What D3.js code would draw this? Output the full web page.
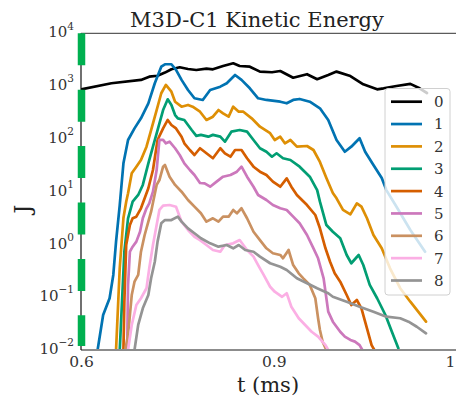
<!DOCTYPE html>
<html>
<head>
<meta charset="utf-8">
<script src="https://cdn.jsdelivr.net/npm/d3@7"></script>
<style>
  html, body { margin: 0; padding: 0; background: #fff; }
  svg { display: block; }
  text { font-family: "DejaVu Serif", serif; }
</style>
</head>
<body>
<svg id="chart" width="456" height="396"></svg>
<script>
// ---------------- data ----------------
const seriesNames = ["0", "1", "2", "3", "4", "5", "6", "7", "8"];
const seriesColors = ["#000000", "#0173b2", "#de8f05", "#029e73", "#d55e00", "#cc78bc", "#ca9161", "#fbafe4", "#949494"];

const xTickValues = [0.6, 0.809, 1.0];
const xTickLabels = ["0.6", "0.9", "1"];
const yTickValues = [1e-2, 1e-1, 1e0, 1e1, 1e2, 1e3, 1e4];
const yTickExponents = ["−2", "−1", "0", "1", "2", "3", "4"];

const t0 = [0.600,0.633,0.665,0.674,0.683,0.691,0.698,0.707,0.716,0.725,0.736,0.743,0.754,0.765,0.772,0.783,0.794,0.807,0.816,0.830,0.845,0.856,0.868,0.877,0.892,0.906,0.921,0.928,0.942,0.957,0.967,0.975];
const j0 = [869,1130,1310,1510,1570,1800,2080,2270,2110,2020,2140,2080,2400,2700,2400,2330,1880,1830,1930,1440,1680,1350,1620,1880,1550,1080,869,908,1005,1100,908,740];

const t1 = [0.618,0.624,0.631,0.635,0.638,0.642,0.646,0.651,0.658,0.665,0.673,0.680,0.687,0.691,0.698,0.703,0.709,0.716,0.723,0.732,0.740,0.751,0.758,0.767,0.774,0.783,0.792,0.801,0.816,0.823,0.830,0.837,0.848,0.859,0.868,0.877,0.886,0.893,0.902,0.908,0.917,0.926,0.931,0.942,0.957,0.973];
const j1 = [0.01,0.046,0.0955,0.264,1.13,5.58,34.4,95.3,158,245,472,1130,2330,2590,2590,2020,1310,843,587,546,843,975,1130,1620,1310,908,587,546,506,472,546,570,506,380,228,95.3,57.1,71.1,103,57.1,32.0,18.2,10.7,5.19,1.88,0.728];

const t2 = [0.638,0.642,0.646,0.649,0.651,0.655,0.660,0.665,0.671,0.676,0.682,0.687,0.692,0.698,0.702,0.709,0.716,0.721,0.729,0.736,0.743,0.749,0.754,0.760,0.765,0.771,0.776,0.785,0.794,0.805,0.810,0.816,0.821,0.827,0.834,0.845,0.852,0.859,0.866,0.873,0.877,0.884,0.892,0.899,0.904,0.910,0.917,0.926,0.935,0.946,0.957,0.967,0.974];
const j2 = [0.01,0.358,3.17,6.46,9.31,22.3,29.7,39.8,71.1,147,352,731,1050,783,506,407,439,407,327,228,263,352,305,263,407,327,327,245,170,128,95.3,110,82.4,95.3,71.1,73.3,61.5,36.5,18.2,9.44,7.48,4.50,3.72,6.01,5.19,3.13,1.51,0.845,0.353,0.148,0.0822,0.0495,0.0344];

const t3 = [0.642,0.647,0.651,0.656,0.662,0.667,0.673,0.678,0.683,0.689,0.694,0.698,0.702,0.705,0.712,0.720,0.725,0.730,0.738,0.743,0.751,0.756,0.763,0.772,0.780,0.787,0.794,0.801,0.807,0.812,0.819,0.827,0.837,0.848,0.856,0.859,0.866,0.873,0.881,0.888,0.893,0.901,0.906,0.913,0.921,0.930,0.937,0.944];
const j3 = [0.01,0.728,3.13,6.46,8.65,13.4,34.4,71.1,147,352,562,439,283,245,228,147,114,119,110,119,110,88.4,137,147,137,95.3,66.4,57.1,45.9,53.3,42.9,39.8,29.7,19.2,10.7,6.46,2.33,1.74,1.31,0.631,0.440,0.631,0.407,0.171,0.0955,0.046,0.0222,0.0108];

const t4 = [0.646,0.647,0.649,0.653,0.656,0.660,0.665,0.669,0.673,0.678,0.683,0.689,0.694,0.698,0.703,0.709,0.712,0.718,0.723,0.729,0.736,0.743,0.751,0.756,0.762,0.767,0.774,0.780,0.787,0.794,0.801,0.808,0.816,0.823,0.828,0.834,0.845,0.854,0.859,0.865,0.870,0.875,0.881,0.888,0.893,0.899,0.904,0.910,0.915,0.918];
const j4 = [0.01,0.0822,0.975,2.33,3.13,3.36,4.84,7.48,11.6,25.7,95.3,158,228,183,158,110,82.4,61.5,49.5,66.4,53.3,42.9,66.4,53.3,45.9,61.5,61.5,42.9,29.7,23.9,20.7,15.5,12.4,17.9,12.4,8.65,5.58,3.61,2.02,0.845,0.471,0.284,0.197,0.110,0.0713,0.0885,0.0617,0.0258,0.0124,0.01];

const t5 = [0.650,0.651,0.653,0.656,0.660,0.664,0.667,0.671,0.674,0.678,0.682,0.685,0.689,0.692,0.696,0.702,0.707,0.712,0.718,0.723,0.729,0.734,0.740,0.747,0.754,0.762,0.769,0.774,0.780,0.787,0.792,0.801,0.808,0.816,0.823,0.830,0.837,0.845,0.852,0.857,0.863,0.866,0.868,0.873,0.881,0.886,0.892,0.897,0.902,0.905];
const j5 = [0.01,0.171,0.728,0.906,1.13,1.74,3.13,4.84,6.01,9.98,25.7,95.3,95.3,82.4,88.4,66.4,49.5,34.4,25.7,20.7,14.6,14.4,12.4,15.5,19.2,20.7,23.9,29.7,19.2,12.4,8.65,6.95,5.58,4.84,4.50,3.36,2.52,1.51,0.845,0.546,0.228,0.0955,0.0532,0.0344,0.0222,0.0179,0.0155,0.0144,0.0124,0.01];

const t6 = [0.648,0.651,0.655,0.658,0.662,0.665,0.669,0.673,0.676,0.679,0.682,0.685,0.689,0.691,0.696,0.702,0.709,0.716,0.723,0.730,0.736,0.743,0.749,0.754,0.760,0.765,0.769,0.774,0.780,0.787,0.794,0.801,0.808,0.816,0.819,0.825,0.830,0.836,0.841,0.848,0.854,0.857,0.859,0.862,0.866];
const j6 = [0.01,0.0192,0.110,0.197,0.264,0.728,1.51,2.70,4.17,7.48,13.4,16.6,29.7,32.0,19.2,13.4,9.98,6.95,5.19,3.89,2.70,3.13,2.70,3.36,3.36,4.50,3.89,4.84,3.13,1.74,1.21,0.845,0.679,0.631,0.546,0.785,0.407,0.284,0.228,0.171,0.0955,0.0399,0.0239,0.0142,0.01];

const t7 = [0.651,0.655,0.660,0.665,0.671,0.674,0.678,0.682,0.685,0.689,0.696,0.703,0.709,0.716,0.723,0.729,0.736,0.743,0.751,0.756,0.765,0.772,0.780,0.787,0.792,0.798,0.805,0.810,0.818,0.823,0.828,0.836,0.843,0.850,0.857,0.865,0.868];
const j7 = [0.01,0.0298,0.0713,0.0955,0.148,0.353,0.975,2.33,4.50,5.42,5.58,5.19,2.70,1.88,1.40,1.21,0.975,0.785,0.728,0.975,1.05,1.21,0.785,0.586,0.407,0.264,0.158,0.127,0.102,0.119,0.0661,0.0399,0.0298,0.0222,0.0179,0.0124,0.01];

const t8 = [0.658,0.662,0.667,0.673,0.676,0.680,0.683,0.687,0.691,0.698,0.705,0.709,0.716,0.723,0.730,0.740,0.749,0.758,0.765,0.771,0.778,0.787,0.794,0.805,0.816,0.823,0.834,0.845,0.856,0.868,0.873,0.888,0.902,0.917,0.931,0.946,0.955,0.964,0.974];
const j8 = [0.01,0.0298,0.0617,0.110,0.228,0.471,1.13,2.52,2.90,2.90,3.36,2.70,2.02,1.63,1.31,1.05,0.906,0.975,0.845,0.975,0.785,0.728,0.586,0.440,0.378,0.328,0.228,0.184,0.148,0.119,0.102,0.0822,0.0661,0.0532,0.0428,0.0399,0.0344,0.0276,0.0207];

const seriesT = [t0, t1, t2, t3, t4, t5, t6, t7, t8];
const seriesJ = [j0, j1, j2, j3, j4, j5, j6, j7, j8];

// ---------------- layout ----------------
const svg = d3.select("#chart");
const plotLeft = 81, plotRight = 456, plotTop = 33.3, plotBottom = 350;
const xRight = 450; // position of the last tick

const x = d3.scaleLinear().domain([0.6, 1.0]).range([plotLeft, xRight]);
const y = d3.scaleLog().domain([1e-2, 1e4]).range([plotBottom, plotTop]);

svg.append("defs").append("clipPath").attr("id", "plotclip")
  .append("rect").attr("x", plotLeft).attr("y", plotTop)
  .attr("width", plotRight - plotLeft).attr("height", plotBottom - plotTop);

// lines
const line = d3.line().x(d => x(d[0])).y(d => y(d[1]));
const plot = svg.append("g").attr("clip-path", "url(#plotclip)");
seriesNames.forEach((name, i) => {
  const pts = seriesT[i].map((t, k) => [t, seriesJ[i][k]]);
  plot.append("path").datum(pts)
    .attr("d", line)
    .attr("fill", "none")
    .attr("stroke", seriesColors[i])
    .attr("stroke-width", 2.7)
    .attr("stroke-linejoin", "round")
    .attr("stroke-linecap", "round");
});

// spines
svg.append("line").attr("x1", plotLeft).attr("x2", plotRight).attr("y1", plotTop).attr("y2", plotTop)
  .attr("stroke", "#333").attr("stroke-width", 1);
svg.append("line").attr("x1", plotLeft).attr("x2", plotRight).attr("y1", plotBottom).attr("y2", plotBottom)
  .attr("stroke", "#8c8c8c").attr("stroke-width", 2);
svg.append("line").attr("x1", plotLeft).attr("x2", plotLeft).attr("y1", plotTop).attr("y2", plotBottom)
  .attr("stroke", "#111").attr("stroke-width", 1.2);
// green dashed overlay on the left spine
svg.append("line").attr("x1", plotLeft + 0.5).attr("x2", plotLeft + 0.5).attr("y1", plotTop).attr("y2", plotBottom - 4)
  .attr("stroke", "#00b050").attr("stroke-width", 7.5)
  .attr("stroke-dasharray", "32,24.4");

// x axis
const xAxis = d3.axisBottom(x).tickValues(xTickValues)
  .tickFormat((d, i) => xTickLabels[i]).tickSize(0).tickPadding(6);
const gx = svg.append("g").attr("transform", `translate(0,${plotBottom})`).call(xAxis);
gx.select(".domain").remove();
gx.selectAll("text").attr("font-family", "DejaVu Serif").attr("font-size", 15.5).attr("fill", "#333");

// y axis
const yAxis = d3.axisLeft(y).tickValues(yTickValues).tickFormat(() => "").tickSize(0).tickPadding(7);
const gy = svg.append("g").attr("transform", `translate(${plotLeft},0)`).call(yAxis);
gy.select(".domain").remove();
gy.selectAll("text").each(function(d, i) {
  const t = d3.select(this).attr("font-family", "DejaVu Serif").attr("fill", "#333").attr("dy", "0.36em");
  t.append("tspan").attr("font-size", 15).text("10");
  t.append("tspan").attr("font-size", 10.5).attr("dy", "-0.75em").text(yTickExponents[i]);
});

// title and labels
svg.append("text").attr("x", 257).attr("y", 27).attr("text-anchor", "middle")
  .attr("font-size", 21).attr("fill", "#222").text("M3D-C1 Kinetic Energy");
svg.append("text").attr("x", 268).attr("y", 392).attr("text-anchor", "middle")
  .attr("font-size", 21).attr("fill", "#222").text("t (ms)");
svg.append("text").attr("transform", "translate(30,209) rotate(-90)").attr("text-anchor", "middle")
  .attr("font-size", 22).attr("fill", "#222").text("J");

// legend
const lg = svg.append("g");
lg.append("rect").attr("x", 385).attr("y", 88.5).attr("width", 65).attr("height", 206.5)
  .attr("rx", 3).attr("fill", "#fff").attr("fill-opacity", 0.8)
  .attr("stroke", "#d0d0d0").attr("stroke-width", 1);
seriesNames.forEach((name, i) => {
  const yy = 101.7 + i * 22.35;
  lg.append("line").attr("x1", 391).attr("x2", 422).attr("y1", yy).attr("y2", yy)
    .attr("stroke", seriesColors[i]).attr("stroke-width", 2.7);
  lg.append("text").attr("x", 434).attr("y", yy).attr("dy", "0.36em")
    .attr("font-size", 15).attr("fill", "#333").text(name);
});
</script>
</body>
</html>
